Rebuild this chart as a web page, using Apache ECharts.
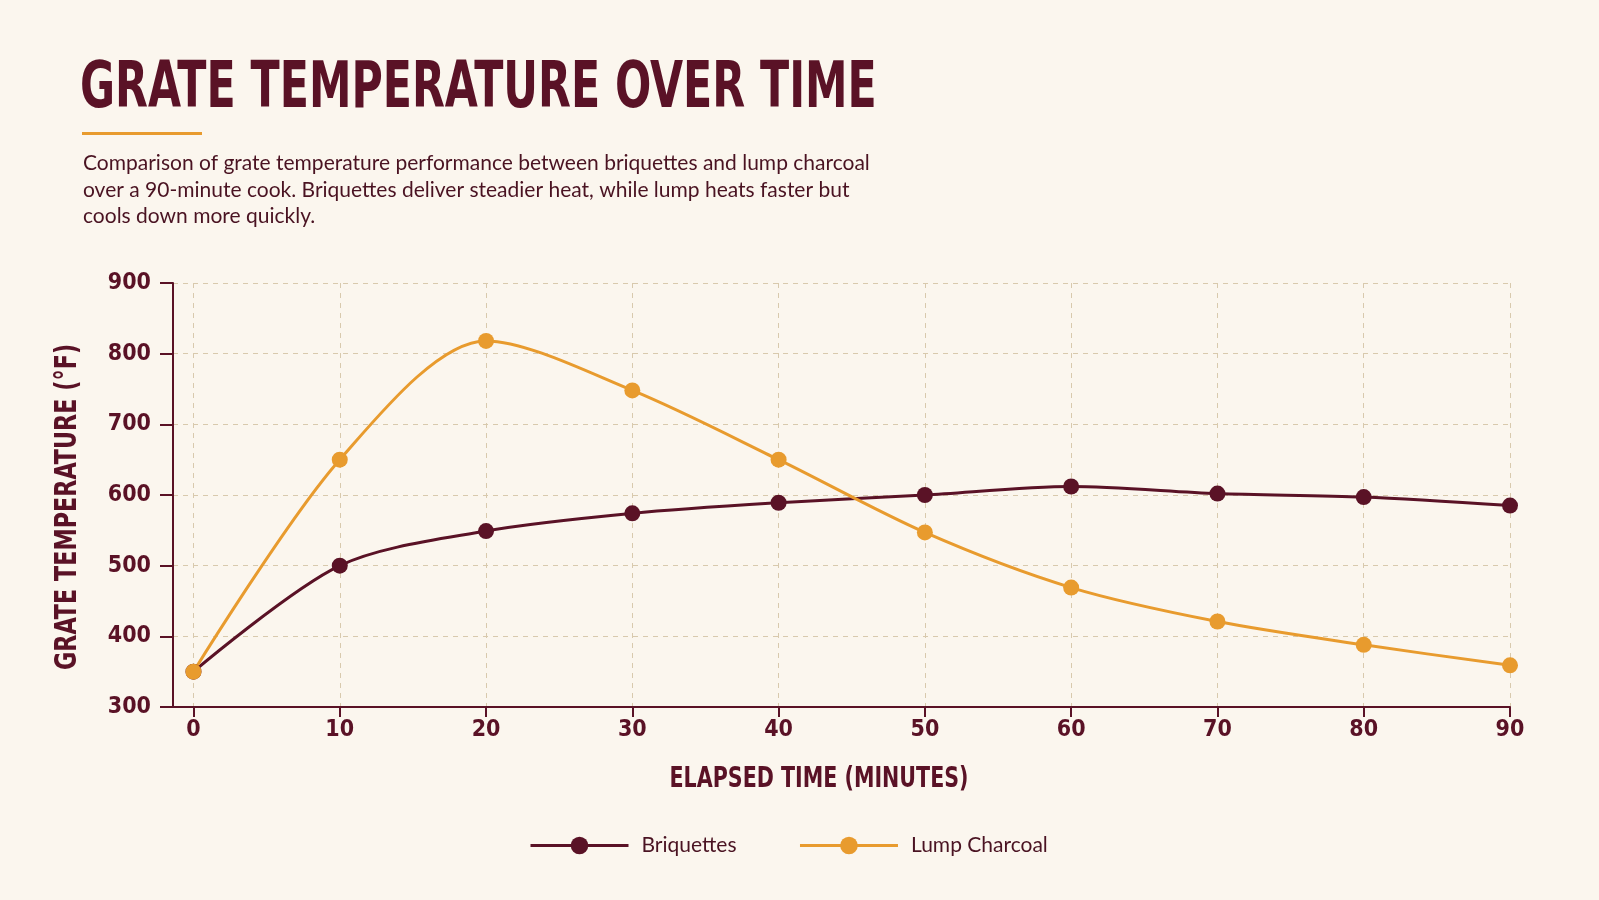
<!DOCTYPE html>
<html>
<head>
<meta charset="utf-8">
<script src="https://cdn.jsdelivr.net/npm/echarts@6/dist/echarts.min.js"></script>
<style>
  html, body { margin: 0; padding: 0; background: #fbf6ee; }
  #chart { width: 1599px; height: 900px; }
</style>
</head>
<body>
<div id="chart"></div>
<script>
// elapsed minutes and grate temperatures (°F)
const minutes = [0, 10, 20, 30, 40, 50, 60, 70, 80, 90]
const briquettes = [350, 500, 549, 574, 589, 600, 612, 602, 597, 585]
const lumpCharcoal = [350, 650, 818, 748, 650, 547, 469, 421, 388, 359]
const yTicks = [300, 400, 500, 600, 700, 800, 900]

const MAROON = '#5a1226'
const ORANGE = '#e89b2e'
const GRID = '#d8c9ad'
const condensed = '"DejaVu Sans Condensed", "DejaVu Sans", sans-serif'

const chart = echarts.init(document.getElementById('chart'))

chart.setOption({
  backgroundColor: '#fbf6ee',
  animation: false,
  graphic: [
    {
      type: 'text', left: 80, top: 58, scaleX: 0.742,
      style: { text: 'GRATE TEMPERATURE OVER TIME', fill: MAROON, font: 'bold 64px ' + condensed }
    },
    {
      type: 'rect', left: 82, top: 132,
      shape: { width: 120, height: 3 },
      style: { fill: ORANGE }
    },
    {
      type: 'text', left: 83, top: 150,
      style: {
        text: 'Comparison of grate temperature performance between briquettes and lump charcoal\nover a 90-minute cook. Briquettes deliver steadier heat, while lump heats faster but\ncools down more quickly.',
        fill: '#4a1322', font: '21px Lato, sans-serif', lineHeight: 26.5
      }
    },
    {
      type: 'text', x: 68, y: 507, rotation: Math.PI / 2, scaleX: 0.8,
      style: { text: 'GRATE TEMPERATURE (°F)', fill: MAROON, font: 'bold 31px ' + condensed, align: 'center', verticalAlign: 'middle' }
    },
    {
      type: 'text', x: 819, y: 779, scaleX: 0.79,
      style: { text: 'ELAPSED TIME (MINUTES)', fill: MAROON, font: 'bold 29px ' + condensed, align: 'center', verticalAlign: 'middle' }
    }
  ],
  grid: {
    left: 173,
    right: 89,
    top: 283,
    bottom: 193
  },
  legend: {
    left: 524,
    top: 830,
    itemWidth: 98,
    itemHeight: 22,
    itemGap: 62,
    lineStyle: { width: 3 },
    textStyle: { color: '#4a1322', fontSize: 21, fontFamily: 'Lato, sans-serif', padding: [0, 0, 0, 8] },
    data: ['Briquettes', 'Lump Charcoal']
  },
  xAxis: {
    type: 'value',
    min: -1.4,
    max: 90,
    axisLine: { lineStyle: { color: MAROON, width: 2 } },
    axisTick: { length: 10, lineStyle: { color: MAROON, width: 2 }, customValues: minutes },
    axisLabel: {
      customValues: minutes,
      color: MAROON, fontSize: 23, fontWeight: 'bold', fontFamily: condensed, margin: 12
    },
    splitLine: { show: true, lineStyle: { color: GRID, type: [5, 5], width: 1 } }
  },
  yAxis: {
    type: 'value',
    min: 300,
    max: 900,
    interval: 100,
    axisLine: { show: true, onZero: false, lineStyle: { color: MAROON, width: 2 } },
    axisTick: { show: true, length: 13, lineStyle: { color: MAROON, width: 2 }, customValues: yTicks },
    axisLabel: { color: MAROON, fontSize: 23, fontWeight: 'bold', fontFamily: condensed, margin: 22, customValues: yTicks },
    splitLine: { show: true, lineStyle: { color: GRID, type: [5, 5], width: 1 } }
  },
  series: [
    {
      name: 'Briquettes',
      type: 'line',
      smooth: 0.3,
      symbol: 'circle',
      symbolSize: 16,
      data: minutes.map((m, i) => [m, briquettes[i]]),
      lineStyle: { color: MAROON, width: 3 },
      itemStyle: { color: MAROON }
    },
    {
      name: 'Lump Charcoal',
      type: 'line',
      smooth: 0.3,
      symbol: 'circle',
      symbolSize: 16,
      data: minutes.map((m, i) => [m, lumpCharcoal[i]]),
      lineStyle: { color: ORANGE, width: 3 },
      itemStyle: { color: ORANGE }
    }
  ]
})
</script>
</body>
</html>
